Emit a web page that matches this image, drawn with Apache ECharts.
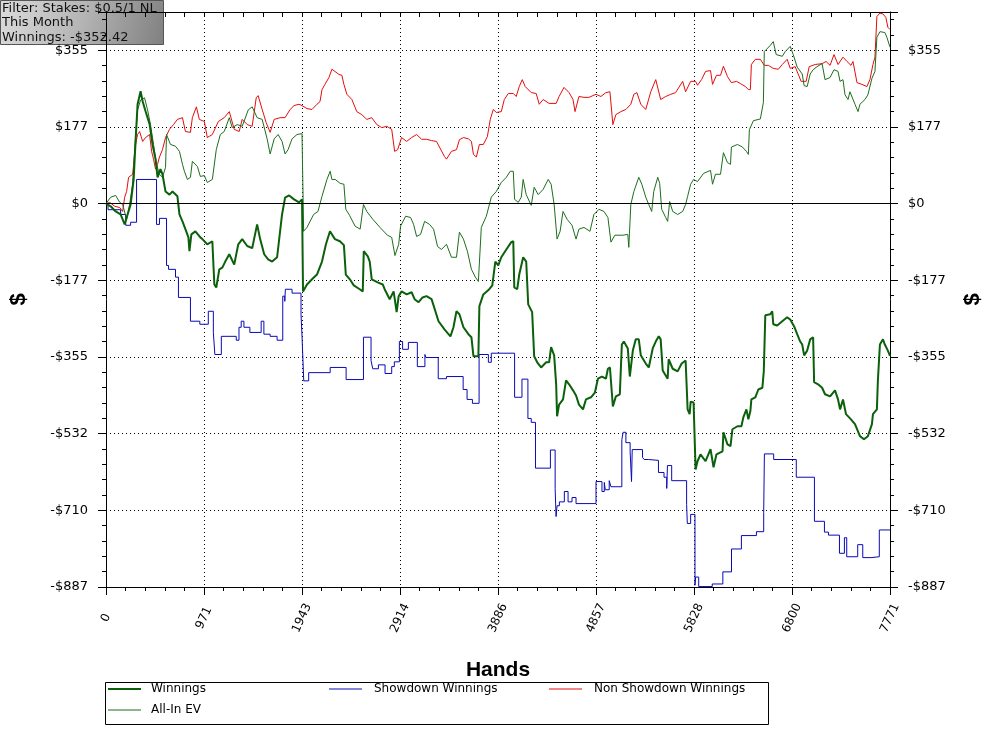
<!DOCTYPE html>
<html><head><meta charset="utf-8">
<script src="https://cdn.jsdelivr.net/npm/echarts@6/dist/echarts.min.js"></script>
<style>html,body{margin:0;padding:0;background:#fff}#c{width:997px;height:737px}</style>
</head><body><div id="c"></div>
<script>
// ---- data (hands, dollars) ----
const handsMax = 7771;
const handStep = 971.375;
const yMin = -887, yMax = 443.5, yStep = 177.4;

const winnings = [[0,0],[46,-6],[96,-18],[145,-25],[185,-48],[214,-25],[244,-2],[274,56],[294,149],[313,230],[343,260],[363,237],[392,214],[432,184],[461,137],[491,103],[511,61],[540,80],[560,68],[590,28],[629,21],[659,28],[708,17],[728,-25],[758,-41],[787,-59],[817,-78],[827,-110],[846,-71],[886,-64],[935,-78],[955,-82],[1004,-94],[1054,-87],[1074,-187],[1093,-194],[1123,-152],[1153,-148],[1182,-134],[1222,-117],[1271,-141],[1311,-94],[1350,-82],[1400,-98],[1449,-103],[1498,-48],[1528,-82],[1568,-117],[1607,-129],[1647,-134],[1696,-124],[1745,-25],[1775,14],[1815,19],[1864,10],[1913,3],[1943,10],[1953,-203],[1992,-187],[2042,-175],[2091,-164],[2141,-134],[2180,-94],[2220,-64],[2269,-82],[2318,-87],[2358,-96],[2377,-164],[2417,-175],[2456,-189],[2515,-198],[2545,-203],[2555,-110],[2595,-122],[2614,-134],[2634,-175],[2693,-182],[2743,-187],[2762,-198],[2812,-221],[2851,-203],[2881,-251],[2901,-214],[2930,-203],[2980,-210],[3029,-205],[3059,-221],[3098,-228],[3138,-217],[3177,-214],[3227,-221],[3296,-272],[3355,-291],[3414,-307],[3444,-286],[3474,-249],[3503,-256],[3543,-286],[3592,-302],[3622,-309],[3642,-353],[3691,-353],[3701,-237],[3740,-210],[3799,-198],[3829,-189],[3859,-134],[3888,-143],[3918,-124],[3968,-106],[4017,-89],[4037,-87],[4047,-194],[4076,-198],[4096,-164],[4135,-124],[4165,-134],[4185,-233],[4224,-251],[4244,-353],[4274,-367],[4313,-379],[4363,-367],[4392,-367],[4412,-332],[4442,-351],[4462,-418],[4471,-492],[4491,-465],[4530,-453],[4560,-409],[4590,-418],[4629,-432],[4659,-444],[4688,-465],[4728,-476],[4757,-453],[4807,-448],[4846,-437],[4876,-405],[4916,-400],[4955,-405],[4975,-382],[4995,-379],[5024,-469],[5054,-446],[5093,-441],[5113,-326],[5133,-319],[5172,-335],[5192,-400],[5222,-340],[5251,-314],[5281,-314],[5301,-351],[5350,-370],[5380,-379],[5419,-335],[5449,-319],[5479,-307],[5498,-314],[5518,-386],[5567,-405],[5577,-360],[5617,-382],[5666,-388],[5706,-370],[5745,-363],[5765,-476],[5785,-487],[5795,-458],[5824,-460],[5844,-615],[5863,-596],[5893,-580],[5943,-596],[5992,-568],[6022,-610],[6051,-580],[6111,-573],[6120,-529],[6160,-557],[6190,-561],[6209,-522],[6259,-515],[6298,-515],[6318,-494],[6348,-476],[6367,-499],[6387,-480],[6397,-453],[6436,-448],[6466,-430],[6506,-426],[6520,-388],[6535,-258],[6584,-256],[6604,-249],[6614,-279],[6653,-282],[6703,-272],[6752,-263],[6782,-268],[6821,-284],[6851,-302],[6881,-319],[6901,-326],[6920,-351],[6950,-340],[6980,-314],[7009,-309],[7019,-413],[7058,-418],[7098,-426],[7127,-441],[7177,-446],[7226,-432],[7256,-453],[7276,-476],[7305,-453],[7335,-487],[7384,-499],[7424,-510],[7473,-538],[7513,-545],[7552,-538],[7592,-510],[7602,-487],[7641,-476],[7651,-409],[7671,-326],[7701,-314],[7720,-326],[7750,-340],[7771,-352]];

const showdown = [[0,0],[20,-14],[145,-25],[195,-50],[244,-43],[303,56],[501,-48],[530,-34],[600,-143],[620,-152],[689,-170],[718,-217],[837,-272],[930,-279],[1014,-249],[1064,-298],[1079,-349],[1143,-307],[1291,-316],[1318,-286],[1340,-272],[1367,-286],[1426,-298],[1538,-272],[1565,-302],[1627,-307],[1696,-316],[1752,-214],[1772,-226],[1778,-198],[1844,-207],[1933,-256],[1943,-307],[1960,-410],[2009,-391],[2222,-379],[2380,-407],[2552,-309],[2627,-363],[2644,-382],[2700,-373],[2766,-393],[2832,-377],[2858,-366],[2908,-319],[2940,-337],[2997,-321],[3086,-377],[3161,-349],[3171,-356],[3293,-405],[3375,-400],[3540,-430],[3579,-453],[3632,-462],[3698,-349],[3790,-367],[3819,-346],[4050,-448],[4123,-406],[4182,-497],[4215,-506],[4257,-612],[4405,-570],[4452,-659],[4461,-724],[4471,-699],[4494,-690],[4543,-666],[4580,-690],[4619,-680],[4659,-694],[4857,-643],[4916,-666],[4939,-645],[4949,-662],[4988,-641],[5005,-655],[5113,-546],[5126,-529],[5153,-553],[5195,-573],[5209,-643],[5216,-569],[5318,-587],[5334,-592],[5377,-594],[5476,-622],[5531,-633],[5558,-659],[5565,-606],[5607,-641],[5755,-696],[5762,-740],[5795,-719],[5838,-883],[5844,-864],[5875,-886],[6009,-880],[6114,-852],[6200,-799],[6298,-768],[6447,-759],[6519,-715],[6526,-579],[6618,-592],[6842,-633],[7022,-735],[7121,-760],[7161,-767],[7270,-809],[7319,-773],[7342,-817],[7451,-789],[7501,-819],[7583,-817],[7665,-755],[7771,-755]];

const nonShowdown = [[0,0],[37,3],[86,-6],[136,-9],[165,-18],[185,15],[204,28],[224,61],[264,68],[294,137],[313,160],[333,167],[363,144],[392,153],[432,160],[452,121],[471,103],[491,80],[511,91],[530,108],[560,125],[590,153],[629,172],[669,183],[708,195],[758,199],[787,167],[837,165],[856,199],[896,224],[925,195],[975,190],[1004,153],[1054,160],[1113,190],[1172,199],[1222,213],[1271,172],[1320,167],[1350,195],[1400,183],[1449,179],[1489,245],[1508,250],[1548,218],[1587,188],[1627,165],[1667,195],[1726,199],[1775,199],[1825,218],[1864,227],[1913,230],[1943,227],[1992,220],[2042,218],[2091,230],[2121,236],[2141,264],[2170,276],[2210,292],[2239,311],[2269,306],[2309,299],[2338,297],[2358,276],[2388,253],[2437,241],[2486,213],[2535,206],[2585,195],[2634,199],[2684,183],[2733,176],[2783,179],[2832,172],[2861,121],[2891,125],[2930,153],[2980,144],[3029,153],[3079,160],[3128,149],[3177,149],[3227,146],[3276,144],[3355,109],[3375,103],[3424,121],[3474,125],[3503,148],[3543,153],[3592,150],[3622,144],[3642,114],[3671,108],[3701,137],[3740,137],[3780,155],[3809,195],[3839,218],[3868,211],[3918,213],[3948,241],[3988,255],[4037,255],[4066,248],[4096,271],[4126,287],[4155,271],[4215,257],[4264,255],[4294,230],[4333,241],[4392,232],[4462,232],[4491,248],[4540,269],[4590,257],[4629,241],[4649,213],[4688,248],[4738,246],[4787,246],[4826,250],[4857,253],[4906,248],[4955,257],[4995,259],[5024,183],[5054,206],[5103,213],[5153,218],[5202,230],[5232,253],[5262,257],[5301,230],[5350,218],[5400,259],[5449,287],[5498,241],[5548,248],[5597,253],[5646,257],[5716,283],[5745,259],[5795,283],[5844,283],[5863,274],[5903,287],[5943,306],[5992,308],[6012,276],[6051,297],[6091,297],[6120,318],[6160,294],[6199,280],[6249,283],[6288,278],[6338,271],[6367,264],[6387,264],[6397,322],[6436,334],[6486,334],[6525,320],[6565,320],[6614,313],[6664,311],[6703,322],[6752,334],[6782,313],[6831,317],[6890,283],[6940,283],[6970,317],[7029,322],[7098,324],[7137,329],[7177,320],[7216,345],[7256,322],[7305,339],[7345,329],[7384,320],[7404,329],[7444,280],[7493,276],[7542,271],[7572,287],[7602,322],[7622,339],[7641,433],[7671,441],[7701,439],[7730,431],[7750,408],[7771,403]];

const allInEV = [[0,0],[46,15],[96,19],[136,3],[165,-2],[204,-36],[234,-2],[264,45],[284,125],[313,217],[343,240],[382,245],[412,217],[441,183],[471,137],[501,91],[530,68],[560,61],[590,84],[600,160],[639,137],[688,133],[728,121],[758,91],[777,75],[807,56],[837,61],[856,98],[906,86],[935,63],[975,65],[1004,49],[1054,56],[1093,125],[1133,160],[1172,167],[1222,199],[1251,176],[1301,183],[1350,179],[1410,217],[1449,224],[1498,199],[1548,195],[1597,150],[1627,115],[1667,150],[1706,160],[1745,144],[1775,115],[1805,125],[1844,150],[1893,160],[1943,162],[1959,-64],[1992,-55],[2058,-25],[2101,-18],[2141,17],[2190,56],[2222,75],[2239,56],[2272,56],[2321,47],[2358,45],[2377,-13],[2414,-27],[2469,-52],[2519,-59],[2552,-2],[2585,-18],[2644,-36],[2716,-55],[2789,-73],[2832,-78],[2864,-120],[2901,-94],[2920,-52],[2970,-29],[3019,-32],[3049,-48],[3079,-76],[3118,-71],[3158,-41],[3207,-48],[3247,-59],[3286,-99],[3325,-106],[3375,-94],[3424,-124],[3474,-124],[3503,-66],[3543,-82],[3582,-110],[3622,-152],[3661,-170],[3691,-180],[3720,-55],[3770,-29],[3819,15],[3868,28],[3918,49],[3968,61],[4007,75],[4037,75],[4050,10],[4086,3],[4116,15],[4135,56],[4165,21],[4215,-4],[4244,38],[4284,21],[4333,33],[4383,56],[4412,45],[4442,-2],[4471,-82],[4501,-64],[4530,-18],[4570,-36],[4619,-50],[4659,-82],[4688,-59],[4738,-55],[4797,-64],[4836,-25],[4886,-13],[4936,-18],[4975,-32],[5005,-89],[5044,-73],[5123,-73],[5172,-71],[5182,-101],[5202,-2],[5232,28],[5281,61],[5311,45],[5350,15],[5380,-2],[5409,-18],[5429,28],[5469,61],[5488,47],[5508,-13],[5548,-32],[5567,-41],[5587,5],[5617,-18],[5666,-25],[5716,-18],[5745,-2],[5765,17],[5795,45],[5824,56],[5863,51],[5923,70],[5992,77],[6012,45],[6041,68],[6091,68],[6120,118],[6160,95],[6190,91],[6199,131],[6259,137],[6308,131],[6348,121],[6367,114],[6377,171],[6417,192],[6486,196],[6516,234],[6525,352],[6584,366],[6614,375],[6643,345],[6703,341],[6733,352],[6782,364],[6812,345],[6851,316],[6901,300],[6920,273],[6950,271],[6980,300],[7009,310],[7048,317],[7098,324],[7127,287],[7177,292],[7216,310],[7256,306],[7276,283],[7305,287],[7325,252],[7355,241],[7374,259],[7424,230],[7454,213],[7473,230],[7523,241],[7552,252],[7592,290],[7622,306],[7641,385],[7671,398],[7720,396],[7740,385],[7771,362]];

const infoLines = ['Filter: Stakes: $0.5/1 NL', 'This Month', 'Winnings: -$352.42'];

// ---- chart ----
const chart = echarts.init(document.getElementById('c'), null, {renderer: 'canvas'});
const FONT = "'DejaVu Sans', Verdana, sans-serif";
const dotted = {color: '#000', width: 1, type: [1, 3]};
const black = {color: '#000', width: 1};

function yLabel(v) {
  if (v > 400) return '';
  const r = Math.round(Math.abs(v));
  if (r === 0) return '$0';
  return (v < 0 ? '-$' : '$') + r;
}

const yBase = {
  type: 'value', min: yMin, max: yMax, interval: yStep,
  axisLine: {show: true, onZero: false, lineStyle: black},
  axisTick: {show: true, inside: false, length: 8, lineStyle: black},
  axisLabel: {margin: 18, formatter: yLabel, fontSize: 13, color: '#000', fontFamily: FONT},
  name: '$', nameLocation: 'middle', nameRotate: 90, nameGap: 76,
  nameTextStyle: {fontSize: 22, fontWeight: 'bold', color: '#000', fontFamily: "'Liberation Sans', Arial, sans-serif"}
};
const yMinor = {
  type: 'value', min: yMin, max: yMax, interval: yStep / 5,
  axisLine: {show: false, onZero: false},
  axisTick: {show: true, inside: false, length: 4, lineStyle: black},
  axisLabel: {show: false}, splitLine: {show: false}
};

function legendAt(name, left, top, thick, gap) {
  return {
    data: [{name: name, icon: 'rect'}], left: left, top: top,
    orient: 'horizontal', itemWidth: 33, itemHeight: thick, padding: 0, selectedMode: false,
    textStyle: {fontSize: 12, color: '#000', fontFamily: FONT, padding: [0, 0, 0, gap]}
  };
}

const option = {
  animation: false,
  backgroundColor: '#fff',
  grid: {left: 103, right: 107, top: 12, bottom: 150, containLabel: false},
  xAxis: [
    {
      type: 'value', position: 'bottom', min: 0, max: handsMax, interval: handStep,
      name: 'Hands', nameLocation: 'middle', nameGap: 73,
      nameTextStyle: {fontSize: 21, fontWeight: 'bold', color: '#000', fontFamily: "'Liberation Sans Narrow', 'Liberation Sans', Arial, sans-serif"},
      axisLine: {show: true, onZero: false, lineStyle: black},
      axisTick: {show: true, inside: false, length: 8, lineStyle: black},
      minorTick: {show: true, splitNumber: 5, length: 4, lineStyle: black},
      axisLabel: {rotate: 65, margin: 31, align: 'center', verticalAlign: 'middle',
        formatter: v => String(Math.round(v)), fontSize: 12, color: '#000', fontFamily: FONT,
        showMinLabel: true, showMaxLabel: true},
      splitLine: {show: true, lineStyle: dotted}
    },
    {
      type: 'value', position: 'top', min: 0, max: handsMax, interval: handStep,
      axisLine: {show: true, onZero: false, lineStyle: black},
      axisTick: {show: true, inside: true, length: 5, lineStyle: black},
      minorTick: {show: true, splitNumber: 5, length: 5, lineStyle: black},
      axisLabel: {show: false}, splitLine: {show: false}
    }
  ],
  yAxis: [
    Object.assign({}, yBase, {position: 'left', splitLine: {show: true, lineStyle: dotted}}),
    Object.assign({}, yBase, {position: 'right', nameGap: 72, splitLine: {show: false}}),
    Object.assign({}, yMinor, {position: 'left'}),
    Object.assign({}, yMinor, {position: 'right'})
  ],
  legend: [
    legendAt('Winnings', 108, 683, 2, 5),
    legendAt('Showdown Winnings', 329, 683, 1, 7),
    legendAt('Non Showdown Winnings', 549, 683, 1, 7),
    legendAt('All-In EV', 108, 704, 1, 5)
  ],
  graphic: [
    {type: 'rect', left: 103, top: 680, z: 50, shape: {width: 663, height: 42},
     style: {fill: 'none', stroke: '#000', lineWidth: 1}},
    {type: 'group', left: 0, top: 0, z: 100, children: [
      {type: 'rect', shape: {x: 0.5, y: 0.5, width: 163, height: 44},
       style: {stroke: '#555', lineWidth: 1,
         fill: {type: 'linear', x: 0, y: 0, x2: 1, y2: 1, colorStops: [
           {offset: 0, color: '#dcdcdc'}, {offset: 0.5, color: '#b4b4b4'}, {offset: 1, color: '#808080'}]}}},
      {type: 'text', x: 2, y: 2, style: {text: infoLines[0], fill: '#111', font: "13px 'DejaVu Sans', Verdana, sans-serif"}},
      {type: 'text', x: 2, y: 16.5, style: {text: infoLines[1], fill: '#111', font: "13px 'DejaVu Sans', Verdana, sans-serif"}},
      {type: 'text', x: 2, y: 31, style: {text: infoLines[2], fill: '#111', font: "13px 'DejaVu Sans', Verdana, sans-serif"}}
    ]}
  ],
  series: [
    {name: 'Showdown Winnings', type: 'line', data: showdown, step: 'end', symbol: 'none',
     color: '#0a0ab4', lineStyle: {color: '#0a0ab4', width: 1}},
    {name: 'Non Showdown Winnings', type: 'line', data: nonShowdown, symbol: 'none',
     color: '#e60c0c', lineStyle: {color: '#e60c0c', width: 1}},
    {name: 'All-In EV', type: 'line', data: allInEV, symbol: 'none',
     color: '#1d6e1d', lineStyle: {color: '#1d6e1d', width: 1}},
    {name: 'Winnings', type: 'line', data: winnings, symbol: 'none',
     color: '#0b600b', lineStyle: {color: '#0b600b', width: 2},
     markLine: {silent: true, symbol: 'none', label: {show: false},
       lineStyle: {color: '#000', width: 1, type: 'solid'}, data: [{yAxis: 0}]}}
  ]
};
chart.setOption(option);
</script>
</body></html>
